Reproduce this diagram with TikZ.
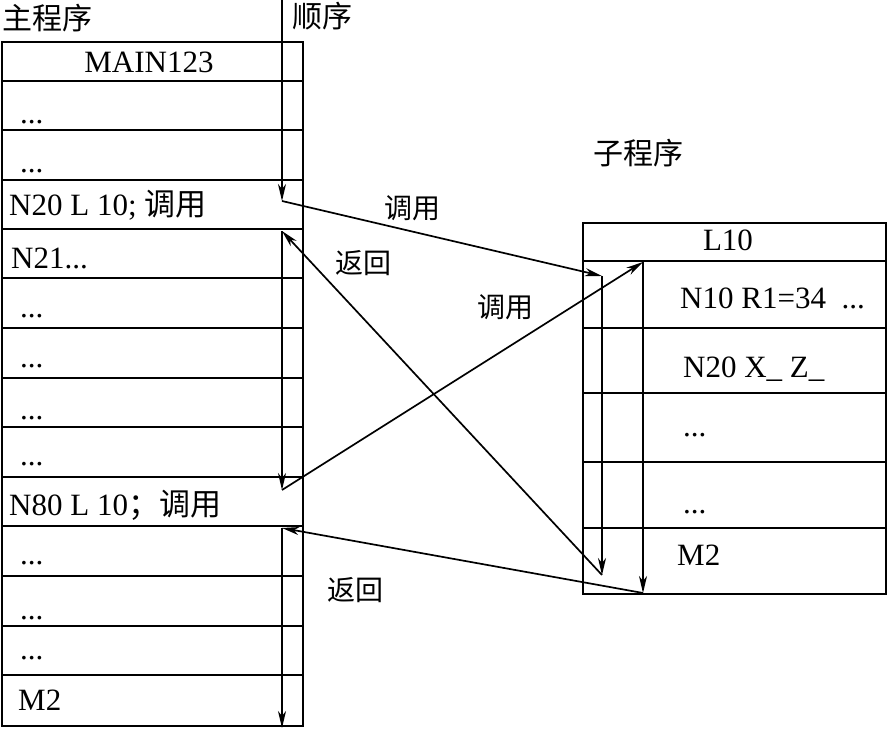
\documentclass[tikz,border=0pt]{standalone}
\usepackage{fontspec}
\setmainfont{Liberation Serif}
\newfontfamily\cjk{Noto Sans CJK SC}
\usetikzlibrary{arrows.meta,positioning}

\begin{document}
\begin{tikzpicture}[x=1pt,y=-1pt,
  every node/.style={font=\fontsize{31}{36}\selectfont,inner sep=0pt},
  txt/.style={anchor=base west},
  cn/.style={font=\fontsize{28}{33}\selectfont\cjk},
  title/.style={font=\fontsize{30}{35}\selectfont\cjk},
  box/.style={line width=2pt},
  flow/.style={line width=1.7pt,-{Stealth[length=17pt,width=8pt,inset=5pt]}}]
  \useasboundingbox (0,0) rectangle (888,730);

  % Tableau du programme principal
  \draw[box] (1.5,42) rectangle (303,726);
  \foreach \y in {81,130,180,229,278,328,378,427,477,526,576,626,675}
    \draw[box] (1.5,\y) -- (303,\y);

  % Tableau du sous-programme
  \draw[box] (583,223) rectangle (886,594);
  \foreach \y in {261,328,393,462,528}
    \draw[box] (583,\y) -- (886,\y);

  % Titres
  \node[title] (maintitle) at (47,18) {主程序};
  \node[title] (seqtitle) at (322,16) {顺序};
  \node[title] (subtitle) at (638,153) {子程序};

  % Lignes du programme principal
  \node[anchor=base] (mainname) at (149,73) {MAIN123};
  \node[txt] (m1) at (20,124) {...};
  \node[txt] (m2) at (20,173) {...};
  \node[txt] (m3) at (9,215) {N20 L 10; {\cjk 调用}};
  \node[txt] (m4) at (11,268) {N21...};
  \node[txt] (m5) at (20,317) {...};
  \node[txt] (m6) at (20,367) {...};
  \node[txt] (m7) at (20,419) {...};
  \node[txt] (m8) at (20,465) {...};
  \node[txt] (m9) at (9,515) {N80 L 10{\cjk ；调用}};
  \node[txt] (m10) at (20,564) {...};
  \node[txt] (m11) at (20,619) {...};
  \node[txt] (m12) at (20,659) {...};
  \node[txt] (m13) at (18,710) {M2};

  % Lignes du sous-programme
  \node[anchor=base] (subname) at (728,250) {L10};
  \node[txt] (s1) at (680,308) {N10 R1=34\ \ ...};
  \node[txt] (s2) at (683,377) {N20 X\_ Z\_};
  \node[txt] (s3) at (683,436) {...};
  \node[txt] (s4) at (683,513) {...};
  \node[txt] (s5) at (677,565) {M2};

  % Points de passage
  \coordinate (seq0) at (282,0);
  \coordinate (call1) at (282,201);
  \coordinate (sub1) at (602,276);
  \coordinate (sub1e) at (602,575);
  \coordinate (ret1) at (282,231);
  \coordinate (call2) at (282,490);
  \coordinate (sub2) at (643,262);
  \coordinate (sub2e) at (643,593);
  \coordinate (ret2) at (282,528);
  \coordinate (mainend) at (282,728);

  % Fleches
  \draw[flow] (seq0) -- (call1);
  \draw[flow] (call1) -- (sub1);
  \draw[flow] (sub1) -- (sub1e);
  \draw[flow] (sub1e) -- (ret1);
  \draw[flow] (ret1) -- (call2);
  \draw[flow] (call2) -- (sub2);
  \draw[flow] (sub2) -- (sub2e);
  \draw[flow] (sub2e) -- (ret2);
  \draw[flow] (ret2) -- (mainend);

  % Etiquettes
  \node[cn] (lcall1) at (412,208) {调用};
  \node[cn] (lret1) at (363,263) {返回};
  \node[cn] (lcall2) at (505,307) {调用};
  \node[cn] (lret2) at (355,590) {返回};
\end{tikzpicture}
\end{document}
